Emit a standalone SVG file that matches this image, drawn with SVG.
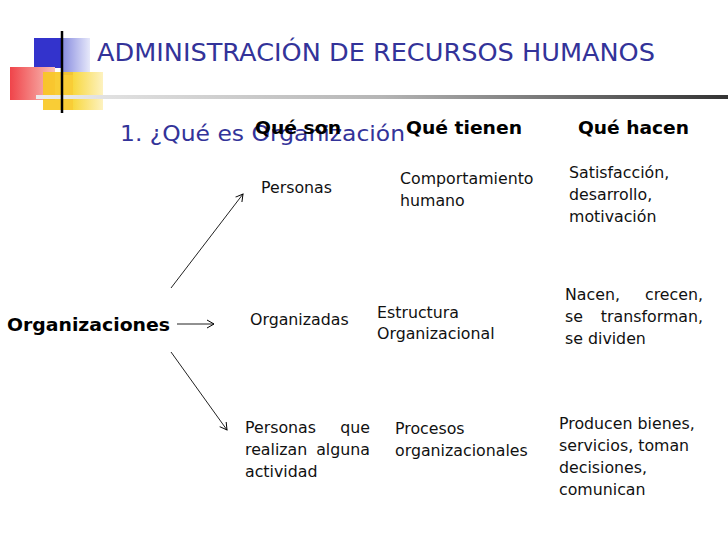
<svg xmlns="http://www.w3.org/2000/svg" width="728" height="546" viewBox="0 0 728 546">
<defs>
<linearGradient id="gLine" x1="0" y1="0" x2="1" y2="0"><stop offset="0" stop-color="#ececec"/><stop offset="0.5" stop-color="#b5b5b5"/><stop offset="1" stop-color="#333"/></linearGradient>
<linearGradient id="gBlue" x1="0" y1="0" x2="1" y2="0"><stop offset="0" stop-color="#8a8ee0"/><stop offset="1" stop-color="#e6e8fa"/></linearGradient>
<linearGradient id="gRed" x1="0" y1="0" x2="1" y2="0"><stop offset="0" stop-color="#f0444a"/><stop offset="1" stop-color="#f8c0b8"/></linearGradient>
<linearGradient id="gYel" x1="0" y1="0" x2="1" y2="0"><stop offset="0" stop-color="#f8d840"/><stop offset="1" stop-color="#fdf2c0"/></linearGradient>
<marker id="ah" markerWidth="10" markerHeight="10" refX="8" refY="5" orient="auto" markerUnits="userSpaceOnUse"><path d="M1,1 L8,5 L1,9" fill="none" stroke="#000" stroke-width="1"/></marker>
<style>
.t{font-family:"DejaVu Sans",Verdana,sans-serif;font-size:15.8px;fill:#111}
.h{font-family:"DejaVu Sans",Verdana,sans-serif;font-size:18.5px;font-weight:bold;fill:#000}
.ti{font-family:"DejaVu Sans",Verdana,sans-serif;fill:#333399}
.c{stroke:#222;stroke-width:1;fill:none;marker-end:url(#ah)}
</style>
</defs>
<rect width="728" height="546" fill="#fff"/>
<g id="logo">
<rect x="34" y="38" width="29" height="30" fill="#3333cc"/>
<rect x="63" y="38" width="27" height="37" fill="url(#gBlue)"/>
<rect x="10" y="67" width="45" height="33" fill="url(#gRed)"/>
<rect x="43" y="72" width="30" height="38" fill="#f8c820" opacity="0.9"/>
<rect x="73" y="72" width="30" height="38" fill="url(#gYel)"/>
<rect x="36" y="95" width="692" height="4" fill="url(#gLine)"/>
<line x1="62" y1="31" x2="62" y2="113" stroke="#000" stroke-width="2.5"/>
</g>
<g id="title"><text class="ti" x="97" y="61" font-size="24" textLength="558" lengthAdjust="spacingAndGlyphs">ADMINISTRACIÓN DE RECURSOS HUMANOS</text></g>
<g id="subtitle"><text class="ti" x="120" y="141" font-size="22" textLength="285" lengthAdjust="spacingAndGlyphs">1.  ¿Qué es Organización</text></g>
<g id="headers">
<text class="h" x="255" y="134" textLength="86" lengthAdjust="spacingAndGlyphs">Qué son</text>
<text class="h" x="406" y="134" textLength="116" lengthAdjust="spacingAndGlyphs">Qué tienen</text>
<text class="h" x="578" y="134" textLength="111" lengthAdjust="spacingAndGlyphs">Qué hacen</text>
</g>
<g id="organizaciones"><text class="h" x="7" y="331" textLength="163" lengthAdjust="spacingAndGlyphs">Organizaciones</text></g>
<g id="connectors">
<line class="c" x1="171" y1="288" x2="243" y2="194"/>
<line class="c" x1="177" y1="324" x2="214" y2="324"/>
<line class="c" x1="171" y1="352" x2="227" y2="430"/>
</g>
<g id="personas"><text class="t" x="261" y="193">Personas</text></g>
<g id="comportamiento"><text class="t" x="400" y="184">Comportamiento</text><text class="t" x="400" y="206">humano</text></g>
<g id="satisfaccion"><text class="t" x="569" y="178">Satisfacción,</text><text class="t" x="569" y="200">desarrollo,</text><text class="t" x="569" y="222">motivación</text></g>
<g id="organizadas"><text class="t" x="250" y="325">Organizadas</text></g>
<g id="estructura"><text class="t" x="377" y="318">Estructura</text><text class="t" x="377" y="339">Organizacional</text></g>
<g id="nacen">
<text class="t" x="565" y="300">Nacen,</text><text class="t" x="703" y="300" text-anchor="end">crecen,</text>
<text class="t" x="565" y="322">se</text><text class="t" x="703" y="322" text-anchor="end">transforman,</text>
<text class="t" x="565" y="344">se dividen</text>
</g>
<g id="personasque">
<text class="t" x="245" y="433">Personas</text><text class="t" x="370" y="433" text-anchor="end">que</text>
<text class="t" x="245" y="455">realizan</text><text class="t" x="370" y="455" text-anchor="end">alguna</text>
<text class="t" x="245" y="477">actividad</text>
</g>
<g id="procesos"><text class="t" x="395" y="434">Procesos</text><text class="t" x="395" y="456">organizacionales</text></g>
<g id="producen">
<text class="t" x="559" y="429">Producen bienes,</text>
<text class="t" x="559" y="451">servicios, toman</text>
<text class="t" x="559" y="473">decisiones,</text>
<text class="t" x="559" y="495">comunican</text>
</g>
</svg>
